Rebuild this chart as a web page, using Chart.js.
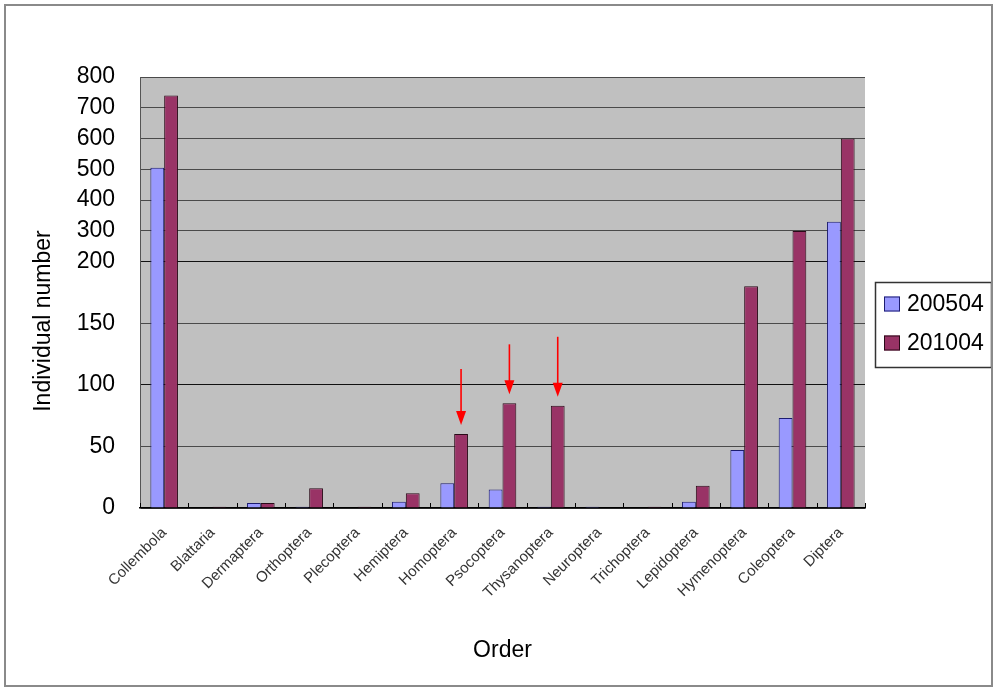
<!DOCTYPE html>
<html>
<head>
<meta charset="utf-8">
<script src="https://cdn.jsdelivr.net/npm/chart.js@4.4.1/dist/chart.umd.min.js"></script>
<style>
  html, body { margin: 0; padding: 0; background: #fff; }
  #wrap { width: 994px; height: 688px; position: relative; }
</style>
</head>
<body>
<div id="wrap"><canvas id="c" width="994" height="688"></canvas></div>
<script>
// Insect orders and individual counts for the two sampling dates
const orders = ['Collembola', 'Blattaria', 'Dermaptera', 'Orthoptera', 'Plecoptera', 'Hemiptera',
  'Homoptera', 'Psocoptera', 'Thysanoptera', 'Neuroptera', 'Trichoptera', 'Lepidoptera',
  'Hymenoptera', 'Coleoptera', 'Diptera'];
const counts200504 = [505, 0, 4, 1, 0, 5, 20, 15, 1, 1, 0, 5, 47, 73, 330];
const counts201004 = [740, 1, 4, 16, 1, 12, 60, 85, 83, 0, 1, 18, 180, 300, 600];
const seriesNames = ['200504', '201004'];
const yTickValues = [0, 50, 100, 150, 200, 300, 400, 500, 600, 700, 800];
const axisBreak = 200;          // above this value the axis is compressed
const highlightedOrders = ['Homoptera', 'Psocoptera', 'Thysanoptera'];

// Share of the axis height given to the 0..axisBreak segment
const LOWER_SHARE = 4 / 7;

// Linear axis with a compressed upper segment
class BrokenLinearScale extends Chart.LinearScale {
  buildTicks() {
    return yTickValues.map(v => ({ value: v }));
  }
  valueToDecimal(v) {
    if (v <= axisBreak) {
      return (v - this.min) / (axisBreak - this.min) * LOWER_SHARE;
    }
    return LOWER_SHARE + (v - axisBreak) / (this.max - axisBreak) * (1 - LOWER_SHARE);
  }
  getPixelForValue(v) {
    return this.getPixelForDecimal(this.valueToDecimal(v));
  }
  getValueForPixel(p) {
    const d = this.getDecimalForPixel(p);
    if (d <= LOWER_SHARE) return this.min + d / LOWER_SHARE * (axisBreak - this.min);
    return axisBreak + (d - LOWER_SHARE) / (1 - LOWER_SHARE) * (this.max - axisBreak);
  }
}
BrokenLinearScale.id = 'brokenLinear';
BrokenLinearScale.defaults = Chart.LinearScale.defaults;
Chart.register(BrokenLinearScale);

const FONT = '"Liberation Sans", Arial, sans-serif';
const seriesFill = ['#9999FF', '#993366'];
const seriesBorder = ['#1c1c70', '#2a0a18'];
const arrowLengths = [56, 50, 60];

const decor = {
  id: 'decor',
  beforeDraw(chart) {
    const { ctx, chartArea: a } = chart;
    ctx.save();
    ctx.fillStyle = '#ffffff';
    ctx.fillRect(0, 0, chart.width, chart.height);
    ctx.fillStyle = '#C0C0C0';
    ctx.fillRect(a.left, a.top, a.right - a.left, a.bottom - a.top);
    ctx.restore();
  },
  afterDraw(chart) {
    const { ctx, chartArea: a } = chart;
    ctx.save();

    // short inner tick marks between categories
    const n = orders.length;
    const step = (a.right - a.left) / n;
    ctx.strokeStyle = '#000';
    ctx.lineWidth = 1;
    for (let i = 0; i <= n; i++) {
      const x = Math.round(a.left + i * step) + 0.5;
      ctx.beginPath();
      ctx.moveTo(x, a.bottom);
      ctx.lineTo(x, a.bottom - 5);
      ctx.stroke();
    }

    // red arrows pointing at the highlighted 201004 bars
    const meta = chart.getDatasetMeta(1);
    ctx.strokeStyle = '#FF0000';
    ctx.fillStyle = '#FF0000';
    highlightedOrders.forEach((name, k) => {
      const bar = meta.data[orders.indexOf(name)];
      const x = bar.x;
      const tip = bar.y - 9;
      const tail = tip - arrowLengths[k];
      ctx.lineWidth = 1.6;
      ctx.beginPath();
      ctx.moveTo(x, tail);
      ctx.lineTo(x, tip - 10);
      ctx.stroke();
      ctx.beginPath();
      ctx.moveTo(x - 5, tip - 14);
      ctx.lineTo(x + 5, tip - 14);
      ctx.lineTo(x, tip);
      ctx.closePath();
      ctx.fill();
    });

    // y axis title
    ctx.fillStyle = '#000';
    ctx.font = '23px ' + FONT;
    ctx.textAlign = 'center';
    ctx.textBaseline = 'middle';
    ctx.translate(44, 321);
    ctx.rotate(-Math.PI / 2);
    ctx.fillText('Individual number', 0, 0);
    ctx.setTransform(1, 0, 0, 1, 0, 0);

    // legend
    ctx.strokeStyle = '#333';
    ctx.lineWidth = 1.5;
    ctx.strokeRect(875.5, 282.5, 116, 85);
    chart.data.datasets.forEach((ds, i) => {
      const cy = 304 + i * 39;
      ctx.fillStyle = ds.backgroundColor;
      ctx.fillRect(884, cy - 7.5, 16, 15);
      ctx.strokeStyle = ds.borderColor;
      ctx.lineWidth = 1;
      ctx.strokeRect(884.5, cy - 7, 15, 14);
      ctx.fillStyle = '#000';
      ctx.font = '23px ' + FONT;
      ctx.textAlign = 'left';
      ctx.textBaseline = 'middle';
      ctx.fillText(ds.label, 907, cy + 1);
    });

    // outer frame
    ctx.strokeStyle = '#8a8a8a';
    ctx.lineWidth = 2;
    ctx.strokeRect(5, 5, 987, 681);
    ctx.restore();
  }
};

new Chart(document.getElementById('c'), {
  type: 'bar',
  data: {
    labels: orders,
    datasets: [
      { label: seriesNames[0], data: counts200504, backgroundColor: seriesFill[0], borderColor: seriesBorder[0], borderWidth: 1 },
      { label: seriesNames[1], data: counts201004, backgroundColor: seriesFill[1], borderColor: seriesBorder[1], borderWidth: 1 }
    ]
  },
  options: {
    responsive: false,
    animation: false,
    events: [],
    layout: { padding: { left: 0, top: 77, right: 129, bottom: 0 } },
    datasets: { bar: { categoryPercentage: 0.571, barPercentage: 1.0 } },
    plugins: { legend: { display: false }, tooltip: { enabled: false }, title: { display: false } },
    scales: {
      x: {
        type: 'category',
        offset: true,
        grid: { display: false },
        border: { display: true, color: '#000', width: 1.5 },
        ticks: {
          color: '#333',
          font: { family: FONT, size: 15 },
          minRotation: 45,
          maxRotation: 45,
          autoSkip: false,
          padding: 8
        },
        title: {
          display: true,
          text: 'Order',
          color: '#000',
          font: { family: FONT, size: 23 },
          padding: { top: 0, bottom: 24 }
        },
        afterFit(scale) { scale.height = 180; }
      },
      y: {
        type: 'brokenLinear',
        min: 0,
        max: 800,
        grid: {
          drawTicks: false,
          color: ctx => (ctx.tick && (ctx.tick.value === 200 || ctx.tick.value === 100)) ? '#111' : '#4a4a4a',
          lineWidth: 1
        },
        border: { display: true, color: '#555', width: 1 },
        ticks: {
          autoSkip: false,
          color: '#000',
          font: { family: FONT, size: 23 },
          padding: 25,
          callback: v => String(v)
        },
        afterFit(scale) { scale.width = 140; }
      }
    }
  },
  plugins: [decor]
});
</script>
</body>
</html>
